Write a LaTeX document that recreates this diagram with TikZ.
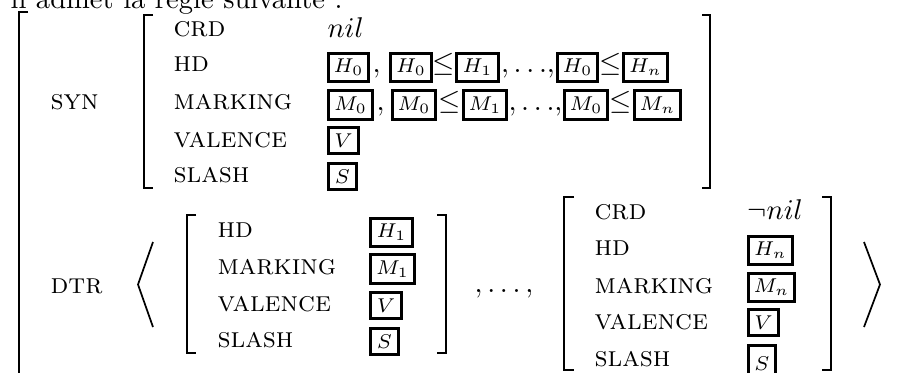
\documentclass[tikz,border=0pt]{standalone}
\newcommand\bxn[6]{\node[bx,minimum width={(#4-#2)*0.35pt-0.9pt},minimum height={(#5-#3)*0.35pt-0.9pt}] (#1) at ({(#2+#4)/2},{(#3+#5)/2}) {#6};}
\begin{document}
\begin{tikzpicture}[x=0.35pt,y=-0.35pt,
  lbl/.style={anchor=base west,inner sep=0,font=\fontsize{10}{10}\selectfont\scshape},
  val/.style={anchor=base west,inner sep=0},
  pun/.style={anchor=base,inner sep=0},
  bx/.style={draw,line width=0.9pt,inner sep=0,font=\scriptsize},
  brk/.style={line width=0.85pt},
  ang/.style={line width=0.6pt,line join=miter}]
\useasboundingbox (0,0) rectangle (901,372);
\clip (0,0) rectangle (901,372);
% intro line (cut off at top)
\node[val] (intro) at (10,8.5) {il admet la règle suivante :};
% outer bracket
\draw[brk,line width=0.7pt] (28,12) -- (19,12) -- (19,400);
% SYN
\node[lbl] (syn) at (50,109) {syn};
\draw[brk] (153,15) -- (144,15) -- (144,188) -- (153,188);
\draw[brk] (702,15) -- (710,15) -- (710,188) -- (702,188);
\node[lbl] (crdA) at (173,36) {crd};
\node[lbl] (hdA) at (173,71) {hd};
\node[lbl] (mkA) at (173,109) {marking};
\node[lbl] (vaA) at (173,147) {valence};
\node[lbl] (slA) at (173,182) {slash};
\node[val] (nilA) at (327,37) {$nil$};
% HD row
\bxn{h0a}{327}{52}{370}{83}{$H_0$}
\node[val] (c1) at (372,72) {$,$};
\bxn{h0b}{389}{52}{433}{83}{$H_0$}
\node[pun] (le1) at (444,71) {$\leq$};
\bxn{h1a}{455}{52}{500}{83}{$H_1$}
\node[pun] (d1) at (528,72) {$,\ldots\!,$};
\bxn{h0c}{556}{52}{599}{83}{$H_0$}
\node[pun] (le2) at (610.5,71) {$\leq$};
\bxn{hna}{622}{52}{669}{83}{$H_n$}
% MARKING row
\bxn{m0a}{327}{89}{374}{121}{$M_0$}
\node[val] (c2) at (376,110) {$,$};
\bxn{m0b}{391}{89}{437}{121}{$M_0$}
\node[pun] (le3) at (449.5,109) {$\leq$};
\bxn{m1a}{462}{89}{508}{121}{$M_1$}
\node[pun] (d2) at (535.5,110) {$,\ldots\!,$};
\bxn{m0c}{563}{89}{609}{121}{$M_0$}
\node[pun] (le4) at (621,109) {$\leq$};
\bxn{mna}{633}{89}{682}{121}{$M_n$}
\bxn{va}{327}{126}{360}{155}{$V$}
\bxn{sa}{327}{162}{358}{191}{$S$}
% DTR
\node[lbl] (dtr) at (50,293) {dtr};
\draw[ang] (153,242) -- (138,284.5) -- (153,327);
% first daughter
\draw[brk] (196,215) -- (187,215) -- (187,353) -- (196,353);
\draw[brk] (437,215) -- (446,215) -- (446,353) -- (437,353);
\node[lbl] (hdB) at (217,237) {hd};
\node[lbl] (mkB) at (217,274) {marking};
\node[lbl] (vaB) at (217,311) {valence};
\node[lbl] (slB) at (217,347) {slash};
\bxn{h1b}{369}{217}{414}{248}{$H_1$}
\bxn{m1b}{369}{253}{416}{285}{$M_1$}
\bxn{vb}{369}{291}{403}{320}{$V$}
\bxn{sb}{369}{327}{400}{356}{$S$}
\node[pun] (d3) at (504,292) {$, \ldots ,$};
% last daughter
\draw[brk] (574,197) -- (564,197) -- (564,370) -- (574,370);
\draw[brk] (822,197) -- (831,197) -- (831,370) -- (822,370);
\node[lbl] (crdC) at (594,219) {crd};
\node[lbl] (hdC) at (594,255) {hd};
\node[lbl] (mkC) at (594,293) {marking};
\node[lbl] (vaC) at (594,329) {valence};
\node[lbl] (slC) at (594,366) {slash};
\node[val] (nilC) at (747,219) {$\neg nil$};
\bxn{hnc}{747}{235}{794}{266}{$H_n$}
\bxn{mnc}{747}{272}{796}{303}{$M_n$}
\bxn{vc}{747}{308}{780}{337}{$V$}
\bxn{sc}{747}{344}{777}{384}{$S$}
\draw[ang] (864,242) -- (880,284.5) -- (864,327);
\end{tikzpicture}
\end{document}
